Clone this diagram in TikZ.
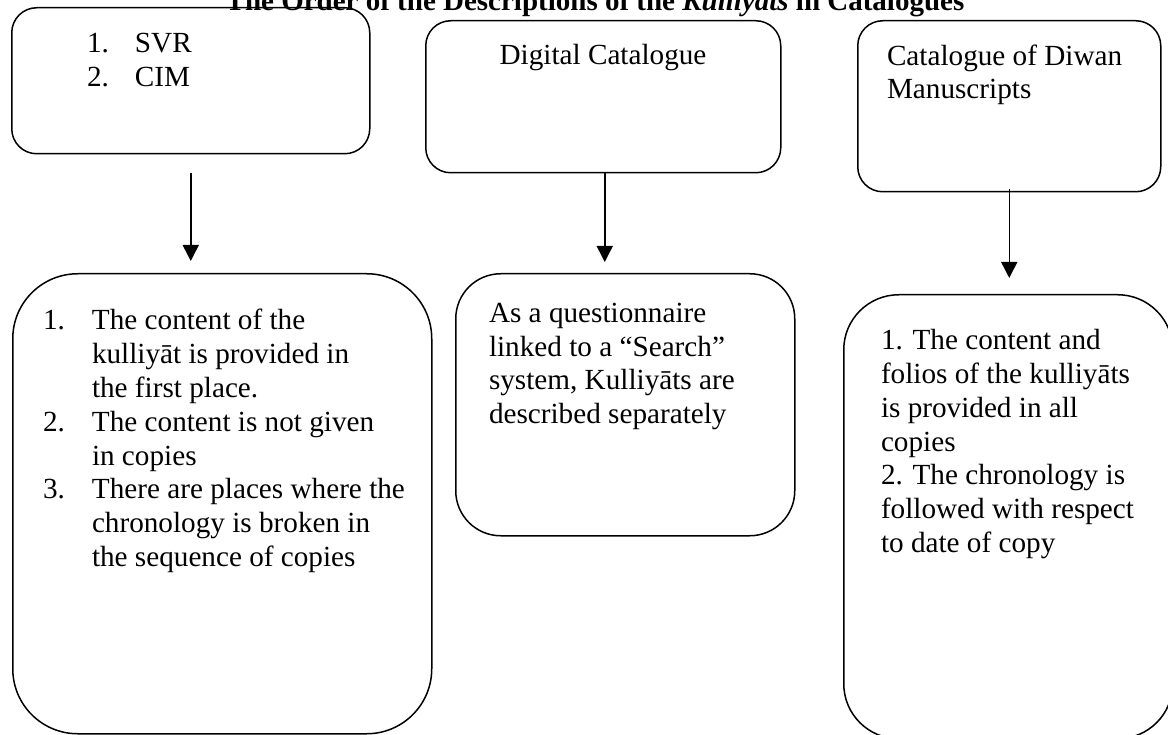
\documentclass[tikz,border=0pt]{standalone}
\usepackage{fontspec}
\setmainfont{Liberation Serif}
\usetikzlibrary{arrows.meta}

% multi-line text block whose anchor is the baseline of its first line
\newcommand{\txtblock}[3]{\parbox[t]{#1}{\raggedright\fontsize{29.2}{#2}\selectfont #3}}
\newcommand{\numitem}[2]{\hangindent=#1\hangafter=1\noindent\makebox[#1][l]{#2}}

\begin{document}
\begin{tikzpicture}[x=1pt, y=-1pt,
  every node/.style={font=\fontsize{29.2}{33.5}\selectfont},
  box/.style={draw, line width=1.5pt, rounded corners=#1, anchor=north west, inner sep=0pt},
  box/.default=25pt,
  txt/.style={anchor=base west, inner sep=0pt, outer sep=0pt},
  arr/.style={line width=1.5pt, -{Triangle[width=16pt,length=16pt]}}]
\useasboundingbox (0,0) rectangle (1168,735);
\clip (0,0) rectangle (1168,735);

% title
\node[txt, anchor=base] (title) at (595,11)
  {\fontsize{29}{33}\selectfont\bfseries The Order of the Descriptions of the \textit{Kulliyāts} in Catalogues};

% upper row
\node[box, minimum width=358pt, minimum height=146pt] (svr) at (11,7) {};
\node[box, minimum width=355pt, minimum height=152pt] (dig) at (425,20) {};
\node[box, minimum width=303pt, minimum height=171pt] (diw) at (857,20) {};

% lower row
\node[box=65pt, minimum width=419pt, minimum height=460pt] (svrd) at (12,273) {};
\node[box=45pt, minimum width=339pt, minimum height=262pt] (digd) at (455,273) {};
\node[box=55pt, minimum width=329pt, minimum height=444pt] (diwd) at (843,294) {};

% texts of the upper row
\node[txt] (svrt) at (87,53) {\txtblock{250pt}{34pt}{%
  \makebox[48pt][l]{1.}SVR\newline
  \makebox[48pt][l]{2.}CIM}};
\node[txt, anchor=base] (digt) at (603,65) {Digital Catalogue};
\node[txt] (diwt) at (887,66) {\txtblock{270pt}{33pt}{%
  Catalogue of Diwan\newline Manuscripts}};

% texts of the lower row
\node[txt] (svrdt) at (43,330) {\txtblock{375pt}{33.8pt}{%
  \numitem{49pt}{1.}The content of the\newline kulliyāt is provided in\newline the first place.\par
  \numitem{49pt}{2.}The content is not given\newline in copies\par
  \numitem{49pt}{3.}There are places where the\newline chronology is broken in\newline the sequence of copies}};
\node[txt] (digdt) at (489,323) {\txtblock{300pt}{33.4pt}{%
  As a questionnaire\newline linked to a “Search”\newline system, Kulliyāts are\newline described separately}};
\node[txt] (diwdt) at (881,350) {\txtblock{280pt}{33.7pt}{%
  1. The content and\newline folios of the kulliyāts\newline is provided in all\newline copies\newline
  2. The chronology is\newline followed with respect\newline to date of copy}};

% connectors
\coordinate (a1) at ([yshift=-19pt]svr.south);
\coordinate (a2) at (a1 |- svrd.north);
\draw[arr] (a1) -- ([yshift=12pt]a2);
\coordinate (b1) at ([xshift=1.5pt]dig.south);
\coordinate (b2) at (b1 |- digd.north);
\draw[arr] (b1) -- ([yshift=11pt]b2);
\coordinate (c1) at ([yshift=3pt]diw.south);
\coordinate (c2) at (c1 |- diwd.north);
\draw[arr] (c1) -- ([yshift=16pt]c2);
\end{tikzpicture}
\end{document}
